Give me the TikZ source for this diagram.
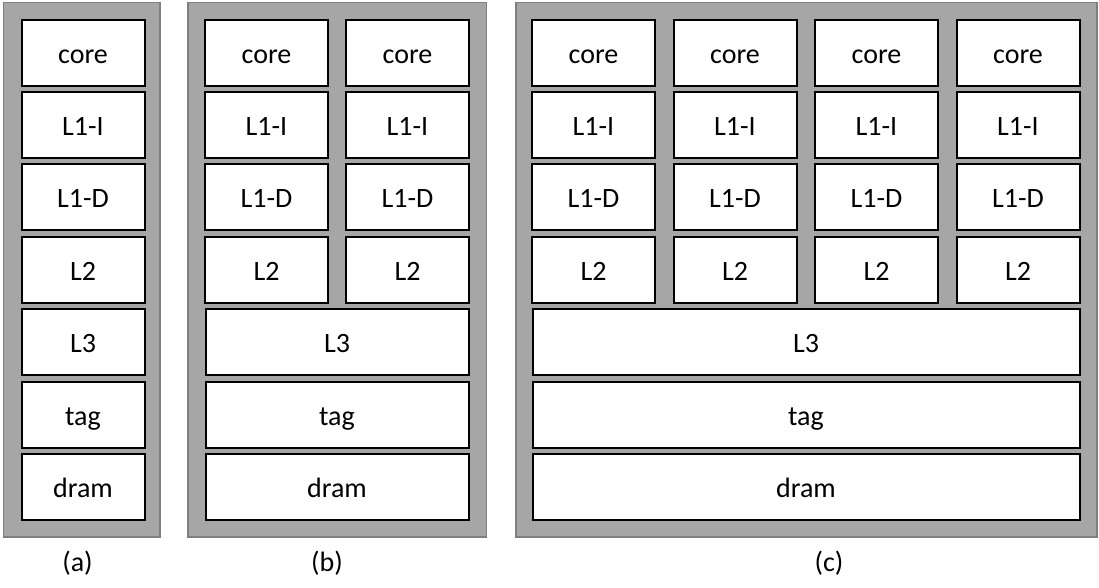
\documentclass[tikz,border=0pt]{standalone}
\usepackage{fontspec}
\setmainfont{Carlito}
\usetikzlibrary{positioning}
\definecolor{chipfill}{HTML}{A6A6A6}
\definecolor{chipedge}{HTML}{7F7F7F}
\tikzset{
  chip/.style = {draw=chipedge, line width=1.5pt, fill=chipfill},
  unit/.style = {draw, line width=2pt, fill=white, inner sep=0pt,
    minimum width=123pt, minimum height=66pt,
    text height=21pt, text depth=0pt, font=\fontsize{28}{33}\selectfont},
  caption/.style = {font=\fontsize{28}{33}\selectfont}
}
\begin{document}
\begin{tikzpicture}[x=1pt, y=-1pt]
  \useasboundingbox (0,0) rectangle (1099,587);
  % the three chips
  \draw[chip] (3.5,2.5) rectangle (160,537);
  \draw[chip] (188,2.5) rectangle (486.5,537);
  \draw[chip] (516,2.5) rectangle (1097,537);

  % (a) one core
  \foreach \lbl [count=\r from 0] in {core,L1-I,L1-D,L2,L3,tag,dram}
    \node[unit] (a\r) at (83,52.5+72.4*\r) {\lbl};

  % (b) two cores, shared L3
  \foreach \c/\x in {0/266.5,1/407.5}
    \foreach \lbl [count=\r from 0] in {core,L1-I,L1-D,L2}
      \node[unit] (b\c\r) at (\x,52.5+72.4*\r) {\lbl};
  \foreach \lbl [count=\r from 4] in {L3,tag,dram}
    \node[unit, minimum width=263pt] (b\r) at (337,52.5+72.4*\r) {\lbl};

  % (c) four cores, shared L3
  \foreach \c/\x in {0/593.5,1/735,2/876.5,3/1018}
    \foreach \lbl [count=\r from 0] in {core,L1-I,L1-D,L2}
      \node[unit] (c\c\r) at (\x,52.5+72.4*\r) {\lbl};
  \foreach \lbl [count=\r from 4] in {L3,tag,dram}
    \node[unit, minimum width=547pt] (c\r) at (806,52.5+72.4*\r) {\lbl};

  \node[caption] (capa) at (77.5,563) {(a)};
  \node[caption] (capb) at (327,563) {(b)};
  \node[caption] (capc) at (829,563) {(c)};
\end{tikzpicture}
\end{document}
